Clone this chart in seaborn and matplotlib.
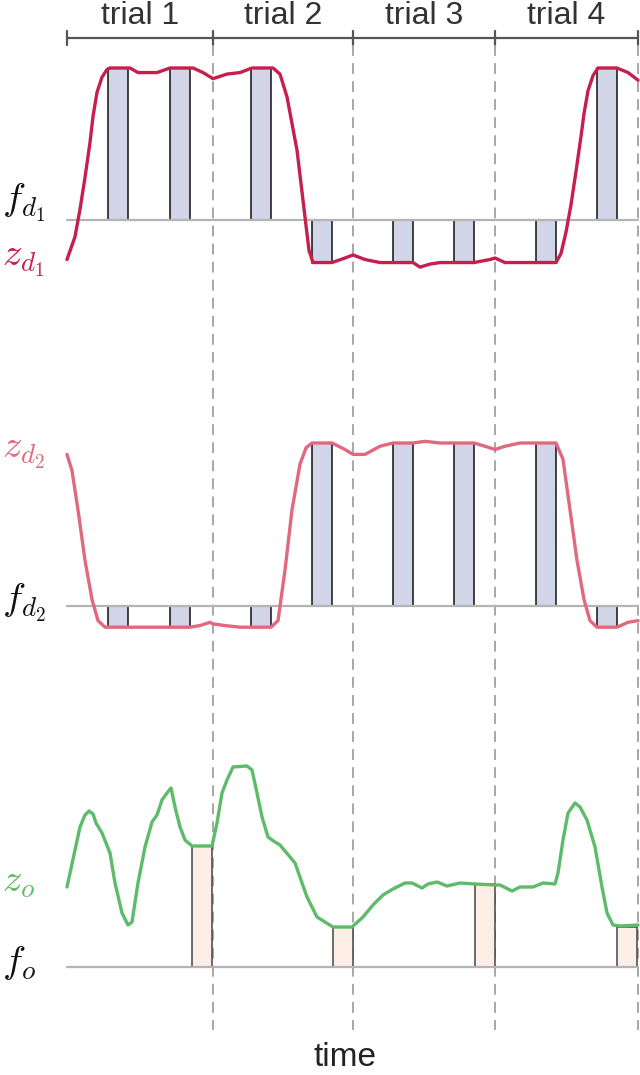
import numpy as np
import pandas as pd
import seaborn as sns
import matplotlib.pyplot as plt

# time in samples, trial boundaries
trial_edges = [0, 146, 286, 428, 571]
trial_labels = ["trial 1", "trial 2", "trial 3", "trial 4"]

# decision bars (start sample, width 20)
bar_starts = [41, 103, 184, 245, 326, 387, 469, 530]
bar_width = 20
bars_d1 = [1.0, 1.0, 1.0, -0.28, -0.28, -0.28, -0.28, 1.0]
bars_d2 = [-0.13, -0.13, -0.13, 1.0, 1.0, 1.0, 1.0, -0.13]

out_starts = [125, 266, 408, 550]
bars_o = [0.605, 0.20, 0.415, 0.20]

t_d1 = [0, 8, 13, 18, 23, 26, 30, 35, 40, 43, 63, 71, 80, 90, 103, 126, 136, 146, 160, 173,
        185, 206, 213, 220, 230, 236, 242, 246, 265, 278, 286, 298, 313, 326, 346, 353, 363,
        373, 387, 407, 423, 428, 438, 453, 469, 489, 494, 499, 504, 509, 514, 517, 521, 526,
        531, 550, 561, 571]
z_d1 = [-0.26, -0.11, 0.07, 0.28, 0.51, 0.68, 0.84, 0.94, 0.99, 1.0, 1.0, 0.97, 0.97, 0.97,
        1.0, 1.0, 0.97, 0.93, 0.96, 0.97, 1.0, 1.0, 0.96, 0.81, 0.46, 0.13, -0.20, -0.28,
        -0.28, -0.25, -0.23, -0.26, -0.28, -0.28, -0.28, -0.31, -0.29, -0.28, -0.28, -0.28,
        -0.26, -0.25, -0.28, -0.28, -0.28, -0.28, -0.22, -0.08, 0.10, 0.32, 0.55, 0.70, 0.85,
        0.95, 1.0, 1.0, 0.97, 0.92]

t_d2 = [0, 5, 11, 18, 25, 31, 38, 61, 73, 88, 103, 123, 133, 143, 146, 158, 173, 184, 204,
        211, 218, 225, 233, 239, 245, 265, 278, 286, 298, 313, 326, 346, 358, 373, 387, 407,
        418, 428, 438, 453, 469, 489, 496, 503, 510, 517, 523, 530, 550, 561, 571]
z_d2 = [0.93, 0.83, 0.59, 0.28, 0.04, -0.09, -0.13, -0.13, -0.13, -0.13, -0.13, -0.13, -0.12,
        -0.10, -0.11, -0.12, -0.13, -0.13, -0.13, -0.09, 0.22, 0.59, 0.87, 0.97, 1.0, 1.0,
        0.96, 0.93, 0.93, 0.98, 1.0, 1.0, 1.01, 1.0, 1.0, 1.0, 0.98, 0.96, 0.98, 1.0, 1.0,
        1.0, 0.90, 0.59, 0.28, 0.04, -0.09, -0.13, -0.13, -0.10, -0.09]

t_o = [0, 8, 13, 18, 22, 26, 29, 35, 43, 48, 55, 61, 65, 71, 78, 85, 90, 95, 100, 104, 108,
       113, 118, 125, 145, 150, 155, 160, 166, 180, 185, 190, 195, 201, 208, 213, 228, 240,
       250, 266, 285, 296, 306, 316, 326, 338, 345, 355, 361, 370, 380, 393, 408, 428, 433,
       445, 453, 466, 476, 488, 491, 496, 501, 508, 513, 520, 528, 535, 540, 546, 553, 571]
z_o = [0.40, 0.585, 0.70, 0.76, 0.78, 0.765, 0.72, 0.67, 0.57, 0.42, 0.27, 0.21, 0.225, 0.42,
       0.60, 0.725, 0.76, 0.835, 0.87, 0.895, 0.80, 0.70, 0.635, 0.605, 0.605, 0.72, 0.87,
       0.935, 1.0, 1.005, 0.985, 0.87, 0.75, 0.65, 0.625, 0.61, 0.52, 0.35, 0.25, 0.20, 0.20,
       0.25, 0.31, 0.36, 0.39, 0.42, 0.42, 0.395, 0.415, 0.425, 0.405, 0.42, 0.415, 0.41,
       0.41, 0.38, 0.40, 0.40, 0.42, 0.415, 0.47, 0.635, 0.77, 0.82, 0.80, 0.735, 0.60, 0.40,
       0.27, 0.21, 0.205, 0.21]

RED = "#c71f4d"
PINK = "#e1687f"
GREEN = "#5dbb69"
LAV = "#d2d4e8"
PEACH = "#fdeee5"
GRID = "#b4b4b4"

sns.set_style("white")
plt.rcParams["font.family"] = ["Liberation Sans", "DejaVu Sans"]
plt.rcParams["mathtext.fontset"] = "cm"

W, H = 640, 1075
fig = plt.figure(figsize=(W / 100, H / 100), dpi=100)
X0, X1 = -67, 573

# overlay axes in pixel-like y for header, dashed lines and labels
ov = fig.add_axes([0, 0, 1, 1])
ov.set_xlim(X0, X1)
ov.set_ylim(H, 0)
ov.axis("off")

ov.plot([trial_edges[0], trial_edges[-1]], [38, 38], color="#555555", lw=1.6)
for e in trial_edges:
    ov.plot([e, e], [31, 45], color="#555555", lw=1.6)
for e in trial_edges[1:]:
    ov.plot([e, e], [45, 1030], color="#a0a0a0", lw=1.3, ls=(0, (6, 4)))
for a, b, lab in zip(trial_edges[:-1], trial_edges[1:], trial_labels):
    ov.text((a + b) / 2, 16, lab, ha="center", va="center", fontsize=23, color="#333333")
ov.text((X0 + X1) / 2 + 25, 1058, "time", ha="center", va="center", fontsize=24, color="#222222")


def panel_ax(top, bottom, base, unit):
    ax = fig.add_axes([0, 1 - bottom / H, 1, (bottom - top) / H])
    ax.set_xlim(X0, X1)
    ax.set_ylim((base - bottom) / unit, (base - top) / unit)
    ax.axis("off")
    return ax


def draw_panel(ax, starts, heights, t, z, color, fill, edge):
    ax.bar(starts, heights, width=bar_width, align="edge", color=fill,
           edgecolor=edge, linewidth=1.1, zorder=1)
    ax.plot([trial_edges[0], trial_edges[-1]], [0, 0], color=GRID, lw=1.6, zorder=2)
    df = pd.DataFrame({"t": t, "z": z})
    sns.lineplot(data=df, x="t", y="z", ax=ax, color=color, lw=2.4,
                 estimator=None, sort=False, zorder=3)
    ax.set_xlim(X0, X1)
    ax.axis("off")


ax1 = panel_ax(40, 300, 220, 152)
draw_panel(ax1, bar_starts, bars_d1, t_d1, z_d1, RED, LAV, "#111111")
ax2 = panel_ax(420, 660, 606, 163)
draw_panel(ax2, bar_starts, bars_d2, t_d2, z_d2, PINK, LAV, "#111111")
ax3 = panel_ax(740, 1000, 967, 200)
draw_panel(ax3, out_starts, bars_o, t_o, z_o, GREEN, PEACH, "#444444")

# axis labels on the left
lx = X0 + 2
ov.text(lx, 203, r"$f_{d_1}$", fontsize=28, color="#111111", va="center", ha="left")
ov.text(lx, 261, r"$z_{d_1}$", fontsize=28, color=RED, va="center", ha="left")
ov.text(lx, 453, r"$z_{d_2}$", fontsize=28, color=PINK, va="center", ha="left")
ov.text(lx, 603, r"$f_{d_2}$", fontsize=28, color="#111111", va="center", ha="left")
ov.text(lx, 882, r"$z_o$", fontsize=28, color=GREEN, va="center", ha="left")
ov.text(lx, 963, r"$f_o$", fontsize=28, color="#111111", va="center", ha="left")

fig.savefig("out.png", dpi=100)
